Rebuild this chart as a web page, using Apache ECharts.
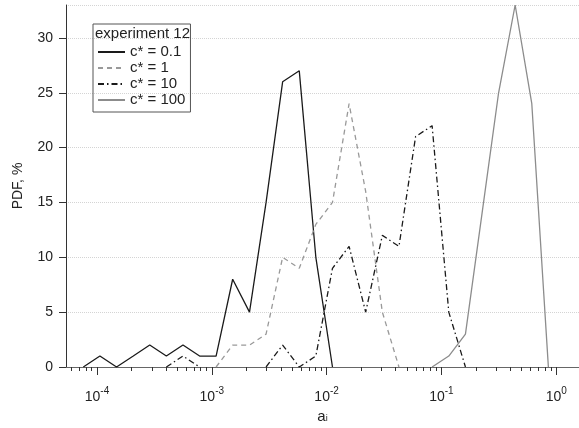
<!DOCTYPE html>
<html>
<head>
<meta charset="utf-8">
<script src="https://cdn.jsdelivr.net/npm/echarts@6/dist/echarts.min.js"></script>
<style>
html,body{margin:0;padding:0;background:#fff;}
#chart{width:579px;height:428px;}
</style>
</head>
<body>
<div id="chart"></div>
<script>
// bin centres of a_i
var bins = [7.6e-5, 1.06e-4, 1.48e-4, 2.07e-4, 2.88e-4, 4.02e-4, 5.61e-4, 7.83e-4,
            1.09e-3, 1.52e-3, 2.13e-3, 2.97e-3, 4.14e-3, 5.78e-3, 8.06e-3,
            1.125e-2, 1.57e-2, 2.19e-2, 3.06e-2, 4.27e-2, 5.96e-2, 8.30e-2,
            0.116, 0.162, 0.226, 0.315, 0.439, 0.613, 0.855];
var N = null;
// PDF, % for each c*
var c01  = [0, 1, 0, 1, 2, 1, 2, 1, 1, 8, 5, 15, 26, 27, 10, 0, N, N, N, N, N, N, N, N, N, N, N, N, N];
var c1   = [N, N, N, N, N, N, N, N, 0, 2, 2, 3, 10, 9, 13, 15, 24, 16, 5, 0, N, N, N, N, N, N, N, N, N];
var c10  = [N, N, N, N, N, 0, 1, 0, N, N, N, 0, 2, 0, 1, 9, 11, 5, 12, 11, 21, 22, 5, 0, N, N, N, N, N];
var c100 = [N, N, N, N, N, N, N, N, N, N, N, N, N, N, N, N, N, N, N, N, N, 0, 1, 3, 14, 25, 33, 24, 0];

var seriesNames = ['c* = 0.1', 'c* = 1', 'c* = 10', 'c* = 100'];
var legendTitle = 'experiment 12';

// axis ticks
var xMajorTicks = [1e-4, 1e-3, 1e-2, 1e-1, 1];
var xMinorTicks = [6e-5, 7e-5, 8e-5, 9e-5,
  2e-4, 3e-4, 4e-4, 5e-4, 6e-4, 7e-4, 8e-4, 9e-4,
  2e-3, 3e-3, 4e-3, 5e-3, 6e-3, 7e-3, 8e-3, 9e-3,
  2e-2, 3e-2, 4e-2, 5e-2, 6e-2, 7e-2, 8e-2, 9e-2,
  2e-1, 3e-1, 4e-1, 5e-1, 6e-1, 7e-1, 8e-1, 9e-1];
var xMin = 5.37e-5, xMax = 1.58;
var yMin = 0, yMax = 33, yStep = 5;

function pairs(vals) {
  return bins.map(function (b, i) { return [b, vals[i]]; });
}

var FONT = 'Liberation Sans, Arial, sans-serif';
var textColor = '#222';
var chart = echarts.init(document.getElementById('chart'), null, {renderer: 'canvas'});
var option = {
  animation: false,
  backgroundColor: '#fff',
  textStyle: {fontFamily: FONT, color: textColor},
  title: {
    text: legendTitle,
    left: 95, top: 26, padding: 0,
    textStyle: {fontSize: 15, fontWeight: 'normal', color: textColor, fontFamily: FONT},
    z: 10
  },
  legend: {
    orient: 'vertical',
    left: 93, top: 24,
    padding: [20, 5, 4, 4],
    itemWidth: 27, itemHeight: 14, itemGap: 0,
    borderColor: '#555', borderWidth: 1,
    itemStyle: {opacity: 0},
    textStyle: {fontSize: 15, color: textColor, lineHeight: 16},
    data: seriesNames
  },
  grid: {left: 66, right: 0, top: 5, bottom: 61, containLabel: false, outerBoundsMode: 'none'},
  xAxis: [{
    type: 'log', logBase: 10, min: xMin, max: xMax,
    name: '{a|a}{i|i}', nameLocation: 'middle', nameGap: 37,
    nameTextStyle: {
      rich: {
        a: {fontSize: 15, color: textColor, fontFamily: FONT},
        i: {fontSize: 9, color: textColor, padding: [0, 0, -5, 0], fontFamily: FONT}
      }
    },
    axisLine: {show: true, onZero: false, lineStyle: {color: '#666', width: 1}},
    axisTick: {show: true, inside: false, length: 8, customValues: xMajorTicks, lineStyle: {color: '#333', width: 1}},
    minorTick: {show: false},
    splitLine: {show: false},
    axisLabel: {
      customValues: xMajorTicks,
      margin: 21,
      formatter: function (v) {
        var e = Math.round(Math.log(v) / Math.LN10);
        return '{b|10}{s|' + e + '}';
      },
      rich: {
        b: {fontSize: 14, color: textColor, fontFamily: FONT, verticalAlign: 'bottom', lineHeight: 16},
        s: {fontSize: 10, color: textColor, fontFamily: FONT, verticalAlign: 'bottom', lineHeight: 16, padding: [0, 0, 8, 0]}
      }
    }
  }, {
    type: 'log', logBase: 10, min: xMin, max: xMax, gridIndex: 0, position: 'bottom',
    axisLine: {show: false},
    axisTick: {show: true, inside: false, length: 4, customValues: xMinorTicks, lineStyle: {color: '#333', width: 1}},
    axisLabel: {show: false, customValues: xMinorTicks},
    splitLine: {show: false}
  }],
  yAxis: {
    type: 'value', min: yMin, max: yMax, interval: yStep,
    name: 'PDF, %', nameLocation: 'middle', nameGap: 41,
    nameTextStyle: {fontSize: 14, color: textColor},
    axisLine: {show: true, lineStyle: {color: '#333', width: 1}},
    axisTick: {show: true, inside: false, length: 7, lineStyle: {color: '#333'}},
    axisLabel: {fontSize: 14, color: textColor, margin: 13, showMaxLabel: false},
    splitLine: {show: true, lineStyle: {color: '#d4d4d4', type: 'dotted', width: 1}}
  },
  series: [{
    name: seriesNames[0], type: 'line', xAxisIndex: 0, data: pairs(c01),
    symbol: 'none', lineStyle: {color: '#1a1a1a', width: 1.3, type: 'solid'}, itemStyle: {color: '#1a1a1a'}
  }, {
    name: seriesNames[1], type: 'line', xAxisIndex: 0, data: pairs(c1),
    symbol: 'none', lineStyle: {color: '#999', width: 1.3, type: [5, 4]}, itemStyle: {color: '#999'}
  }, {
    name: seriesNames[2], type: 'line', xAxisIndex: 0, data: pairs(c10),
    symbol: 'none', lineStyle: {color: '#1a1a1a', width: 1.3, type: [6, 3, 1.5, 3]}, itemStyle: {color: '#1a1a1a'}
  }, {
    name: seriesNames[3], type: 'line', xAxisIndex: 0, data: pairs(c100),
    symbol: 'none', lineStyle: {color: '#8c8c8c', width: 1.3, type: 'solid'}, itemStyle: {color: '#8c8c8c'}
  }]
};
chart.setOption(option);
</script>
</body>
</html>
